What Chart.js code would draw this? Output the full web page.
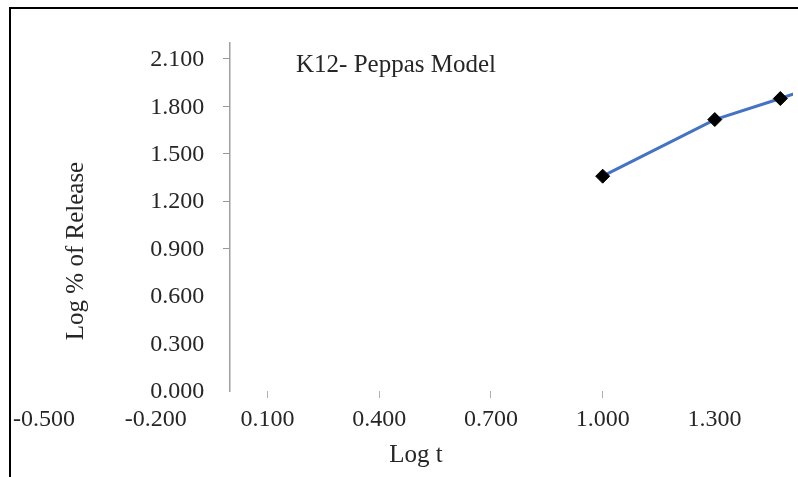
<!DOCTYPE html>
<html>
<head>
<meta charset="utf-8">
<script src="https://cdn.jsdelivr.net/npm/chart.js@4.4.1/dist/chart.umd.min.js"></script>
<style>
  html, body { margin: 0; padding: 0; background: #fff; }
  #wrap { position: relative; width: 798px; height: 477px; overflow: hidden; }
  #frame { position: absolute; left: 9px; top: 7px; width: 900px; height: 600px;
           border-left: 2px solid #000; border-top: 2px solid #000; pointer-events: none; }
  canvas { position: absolute; left: 0; top: 0; }
</style>
</head>
<body>
<div id="wrap">
  <canvas id="c" width="798" height="477"></canvas>
  <div id="frame"></div>
</div>
<script>
// ---- data ----
const logT = [1.000, 1.301, 1.477, 1.602];
const logRelease = [1.358, 1.716, 1.849, 1.950];
const xTicks = [-0.5, -0.2, 0.1, 0.4, 0.7, 1.0, 1.3];
const yTicks = [0, 0.3, 0.6, 0.9, 1.2, 1.5, 1.8, 2.1];
const chartTitle = 'K12- Peppas Model';
const xTitle = 'Log t';
const yTitle = 'Log % of Release';

const FONT = '"Liberation Serif", "Times New Roman", serif';
const TXT = '#262626';

const textPlugin = {
  id: 'texts',
  afterDraw(chart) {
    const ctx = chart.ctx;
    const ys = chart.scales.y;
    const xs = chart.scales.x;
    ctx.save();
    ctx.fillStyle = TXT;
    // y tick labels, placed left of the y axis (which crosses at x = 0)
    ctx.font = '24px ' + FONT;
    ctx.textAlign = 'right';
    ctx.textBaseline = 'middle';
    const axisX = xs.getPixelForValue(0);
    yTicks.forEach(v => {
      ctx.fillText(v.toFixed(3), axisX - 26, ys.getPixelForValue(v) + 1);
    });
    // titles
    ctx.font = '25px ' + FONT;
    ctx.textAlign = 'left';
    ctx.textBaseline = 'alphabetic';
    ctx.fillText(chartTitle, 296, 72);
    ctx.textAlign = 'center';
    ctx.fillText(xTitle, 416, 462);
    ctx.translate(83, 251);
    ctx.rotate(-Math.PI / 2);
    ctx.fillText(yTitle, 0, 0);
    ctx.restore();
  }
};

new Chart(document.getElementById('c'), {
  type: 'scatter',
  data: {
    datasets: [{
      data: logT.map((x, i) => ({ x: x, y: logRelease[i] })),
      showLine: true,
      borderColor: '#4472C4',
      borderWidth: 3,
      borderCapStyle: 'round',
      pointStyle: 'rectRot',
      pointRadius: 7,
      pointHoverRadius: 7,
      pointBackgroundColor: '#000',
      pointBorderColor: '#000',
      pointBorderWidth: 1
    }]
  },
  options: {
    responsive: false,
    animation: false,
    devicePixelRatio: 1,
    layout: { autoPadding: false, padding: { left: 44, right: 5, top: 43, bottom: 0 } },
    plugins: { legend: { display: false }, tooltip: { enabled: false } },
    scales: {
      x: {
        type: 'linear',
        position: 'bottom',
        min: -0.5,
        max: 1.511,
        afterBuildTicks: (s) => { s.ticks = xTicks.map(v => ({ value: v })); },
        afterFit: (s) => { s.height = 86; },
        border: { display: false },
        grid: {
          drawOnChartArea: false,
          drawTicks: true,
          tickLength: 7,
          tickWidth: 1,
          tickColor: (ctx) => {
            const v = ctx.tick ? ctx.tick.value : 0;
            return (v > 0 && v < 1.1) ? '#b0b0b0' : 'rgba(0,0,0,0)';
          }
        },
        ticks: {
          color: TXT,
          font: { family: FONT, size: 24 },
          padding: 7,
          maxRotation: 0,
          autoSkip: false,
          callback: (v) => Number(v).toFixed(3)
        }
      },
      y: {
        type: 'linear',
        position: { x: 0 },
        min: 0,
        max: 2.2,
        afterBuildTicks: (s) => { s.ticks = yTicks.map(v => ({ value: v })); },
        border: { display: true, color: '#a0a0a0', width: 1.5 },
        grid: {
          drawOnChartArea: false,
          drawTicks: true,
          tickLength: 6,
          tickWidth: 1,
          tickColor: (ctx) => {
            const v = ctx.tick ? ctx.tick.value : 0;
            return v >= 0.85 ? '#999999' : 'rgba(0,0,0,0)';
          }
        },
        ticks: { display: false }
      }
    }
  },
  plugins: [textPlugin]
});
</script>
</body>
</html>
